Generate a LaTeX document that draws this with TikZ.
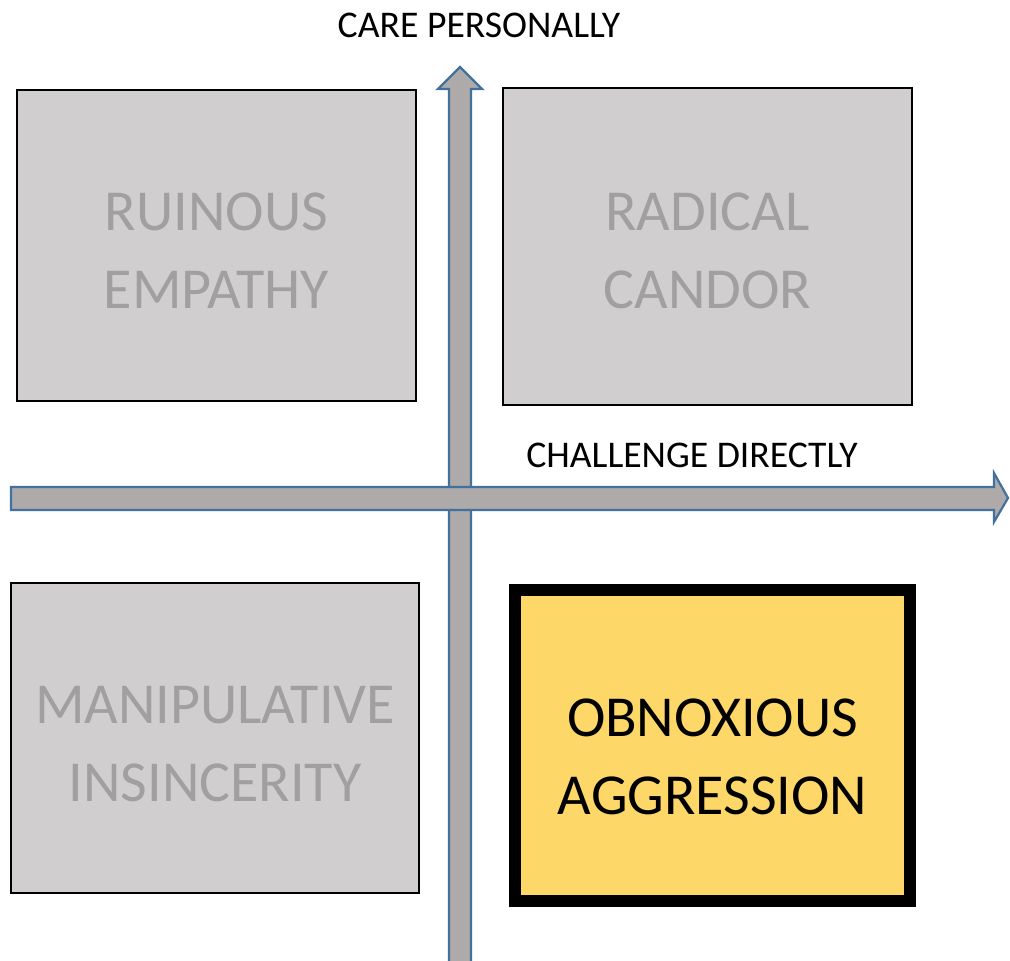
\documentclass[tikz,border=0pt]{standalone}
\usepackage{fontspec}
\setmainfont{Carlito}
\definecolor{quadfill}{HTML}{D0CECE}
\definecolor{quadtext}{HTML}{A19F9F}
\definecolor{axisfill}{HTML}{AEAAAA}
\definecolor{axisedge}{HTML}{41719C}
\definecolor{hotfill}{HTML}{FDD868}
\begin{document}
\begin{tikzpicture}[x=1pt,y=-1pt,
  quad/.style={draw=black, line width=1.2pt, fill=quadfill, inner sep=0pt},
  hot/.style={draw=black, line width=12pt, fill=hotfill, inner sep=0pt},
  quadlabel/.style={text=quadtext, inner sep=0pt, align=center, font=\fontsize{58}{78}\selectfont},
  hotlabel/.style={text=black, inner sep=0pt, align=center, font=\fontsize{58}{78}\selectfont},
  axis/.style={fill=axisfill, draw=axisedge, line width=2.2pt, line join=miter},
  axislabel/.style={font=\fontsize{37.7}{42}\selectfont, inner sep=0pt}]
\useasboundingbox (0,0) rectangle (1010,961);
\begin{scope}
\clip (0,0) rectangle (1010,961);
% quadrant boxes
\node[quad, minimum width=399, minimum height=311] (ruinous) at (216.5,245.5) {};
\node[quad, minimum width=409, minimum height=317] (candor) at (707.5,246.5) {};
\node[quad, minimum width=408, minimum height=310] (manip) at (215,738) {};
\node[hot, minimum width=395, minimum height=311] (obnox) at (712.5,745.5) {};
% quadrant titles
\node[quadlabel] (ruinoustext) at ([yshift=-5pt]ruinous.center) {RUINOUS\\EMPATHY};
\node[quadlabel] (candortext) at ([yshift=-4pt]candor.center) {RADICAL\\CANDOR};
\node[quadlabel] (maniptext) at ([yshift=-6pt]manip.center) {MANIPULATIVE\\INSINCERITY};
\node[hotlabel] (obnoxtext) at ([yshift=-11pt]obnox.center) {OBNOXIOUS\\AGGRESSION};
% vertical axis: care personally
\draw[axis] (449,975) -- (449,89) -- (438,89) -- (460,67) -- (482,89) -- (471,89) -- (471,975) -- cycle;
% horizontal axis: challenge directly
\draw[axis] (11,487) -- (994,487) -- (994,473) -- (1008,498) -- (994,522) -- (994,510) -- (11,510) -- cycle;
\end{scope}
\node[axislabel] (care) at (479,25) {CARE PERSONALLY};
\node[axislabel] (challenge) at (692,455) {CHALLENGE DIRECTLY};
\end{tikzpicture}
\end{document}
